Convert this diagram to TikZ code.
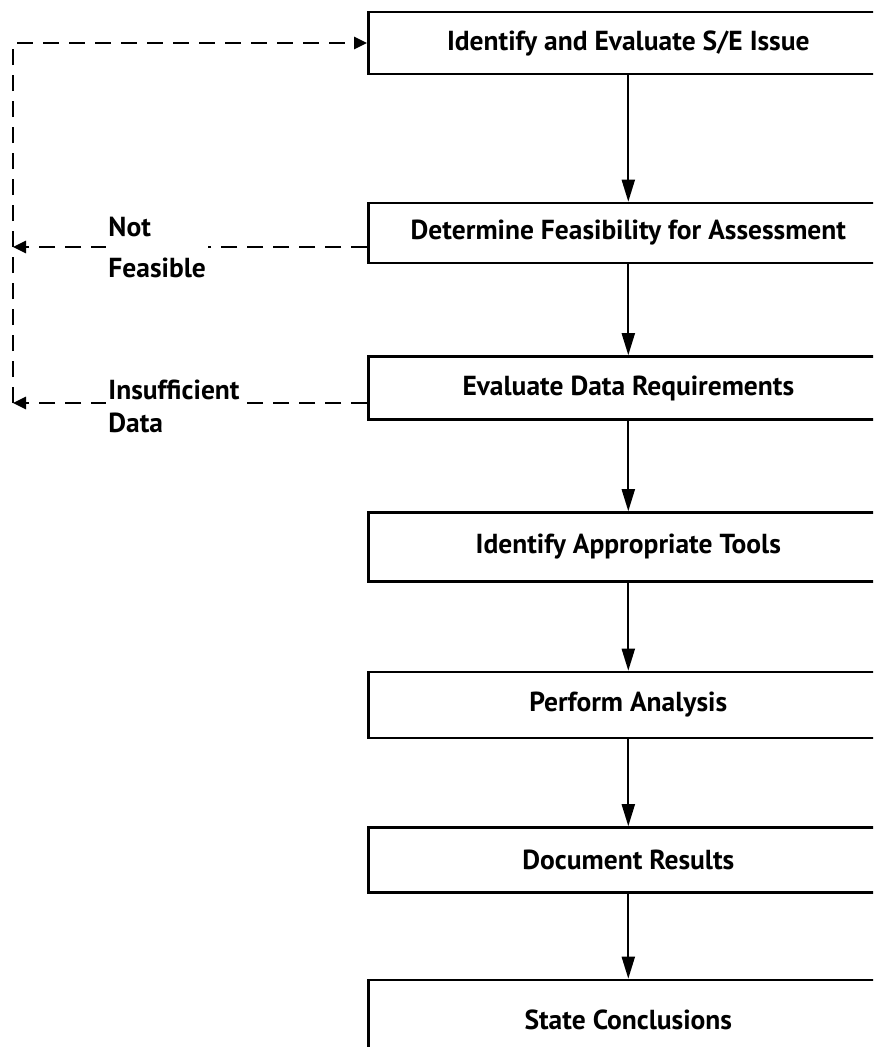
\documentclass[tikz,border=0pt]{standalone}
\usepackage{fontspec}
\setmainfont{PT Sans}
\usetikzlibrary{arrows.meta}

\begin{document}
\begin{tikzpicture}[x=1pt, y=-1pt,
    stepbox/.style={rectangle, draw=black, line width=2.6pt, anchor=west,
      minimum width=520pt, font=\bfseries\fontsize{27.5}{33}\selectfont},
    flow/.style={line width=2pt, -{Triangle[length=22pt, width=13pt]}},
    back/.style={line width=2.8pt, dash pattern=on 16pt off 10pt,
      -{Triangle[length=13pt, width=12pt]}},
    lbl/.style={fill=white, inner sep=2pt, align=left, anchor=west,
      font=\bfseries\fontsize{27.5}{33}\selectfont}]
  \path[use as bounding box, clip] (0,0) rectangle (873,1047);

  % the steps, one under the other
  \node[stepbox, minimum height=62pt] (s1) at (367,43) {Identify and Evaluate S/E Issue};
  \node[stepbox, minimum height=60pt] (s2) at (367,233) {Determine Feasibility for Assessment};
  \node[stepbox, minimum height=63pt] (s3) at (367,388) {Evaluate Data Requirements};
  \node[stepbox, minimum height=69pt] (s4) at (367,547) {Identify Appropriate Tools};
  \node[stepbox, minimum height=66pt] (s5) at (367,705) {Perform Analysis};
  \node[stepbox, minimum height=65pt] (s6) at (367,860) {Document Results};
  \node[stepbox, minimum height=80pt] (s7) at (367,1020) {State Conclusions};

  % main flow
  \draw[flow] (s1) -- (s2);
  \draw[flow] (s2) -- (s3);
  \draw[flow] (s3) -- (s4);
  \draw[flow] (s4) -- (s5);
  \draw[flow] (s5) -- (s6);
  \draw[flow] (s6) -- (s7);

  % the way back to the start
  \coordinate (nf) at (13,247);
  \coordinate (id) at (13,403);
  \coordinate (top) at (13,43);
  \draw[back] ([yshift=-14pt]s2.west) -- node[lbl, pos=0.74] {Not\\[8pt]Feasible} (nf);
  \draw[back] ([yshift=-15pt]s3.west) -- node[lbl, pos=0.74, yshift=-3pt] {Insufficient\\Data} (id);
  \draw[back] (id) -- (top) -- (s1.west);
\end{tikzpicture}
\end{document}
